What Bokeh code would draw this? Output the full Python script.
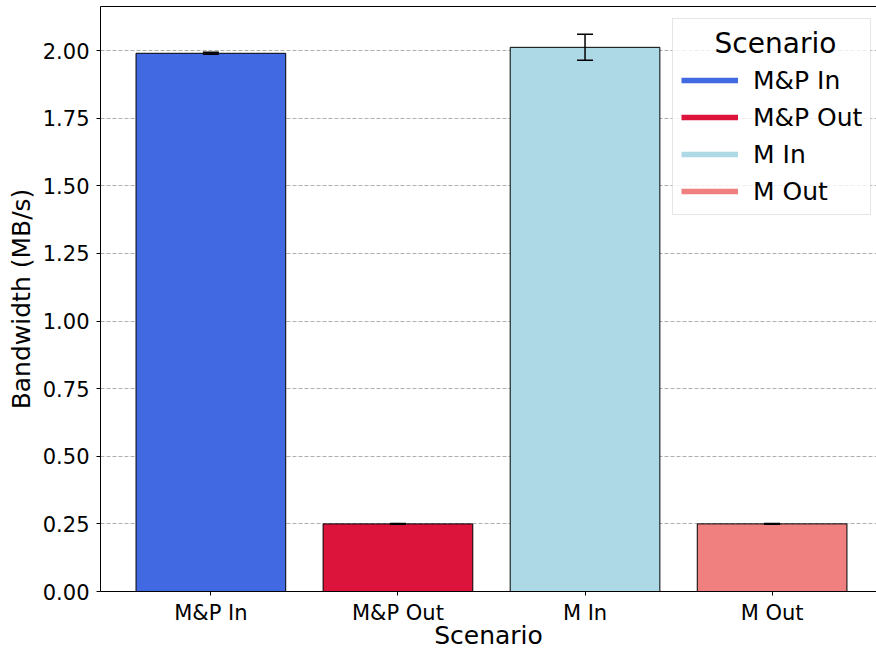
from bokeh.plotting import figure
from bokeh.models import (ColumnDataSource, Whisker, TeeHead, FixedTicker,
                          NumeralTickFormatter, LinearAxis, Legend, LegendItem)
from bokeh.embed import file_html
from bokeh.resources import INLINE

# Mean bandwidth per scenario with its standard deviation
categories = ["M&P In", "M&P Out", "M In", "M Out"]
bandwidth = [1.990, 0.250, 2.012, 0.250]
bandwidth_err = [0.004, 0.001, 0.048, 0.001]
colors = ["#4169E1", "#DC143C", "#ADD8E6", "#F08080"]
y_ticks = [0.0, 0.25, 0.5, 0.75, 1.0, 1.25, 1.5, 1.75, 2.0]

FONT = "DejaVu Sans"

xs = list(range(len(categories)))
src = ColumnDataSource(dict(
    x=xs,
    value=bandwidth,
    upper=[v + e for v, e in zip(bandwidth, bandwidth_err)],
    lower=[v - e for v, e in zip(bandwidth, bandwidth_err)],
    color=colors,
    name=categories,
))

top_val = max(v + e for v, e in zip(bandwidth, bandwidth_err)) * 1.05

p = figure(width=876, height=652, output_backend="svg", toolbar_location=None,
           x_range=(-0.59, 3.558), y_range=(0, top_val),
           min_border_left=100, min_border_top=6, min_border_bottom=61,
           min_border_right=0)
p.outline_line_color = None
p.background_fill_color = "white"
p.border_fill_color = "white"

# grid
p.xgrid.visible = False
p.ygrid.grid_line_color = "#b0b0b0"
p.ygrid.grid_line_dash = "4 2"
p.ygrid.grid_line_width = 1
p.ygrid.ticker = FixedTicker(ticks=y_ticks)

# bars
p.vbar(x="x", top="value", width=0.8, fill_color="color", line_color="black",
       line_width=1, source=src)

# error bars, drawn above the bars
err = Whisker(source=src, base="x", upper="upper", lower="lower",
              line_color="black", line_width=1.5, level="overlay",
              upper_head=TeeHead(size=16, line_color="black", line_width=1.5),
              lower_head=TeeHead(size=16, line_color="black", line_width=1.5))
p.add_layout(err)

# axes
xa = p.xaxis[0]
xa.ticker = FixedTicker(ticks=xs)
xa.major_label_overrides = {i: c for i, c in zip(xs, categories)}
xa.axis_label = "Scenario"
ya = p.yaxis[0]
ya.ticker = FixedTicker(ticks=y_ticks)
ya.formatter = NumeralTickFormatter(format="0.00")
ya.axis_label = "Bandwidth (MB/s)"
for ax in (xa, ya):
    ax.axis_line_color = "black"
    ax.axis_line_width = 1
    ax.major_tick_line_color = "black"
    ax.major_tick_out = 4
    ax.major_tick_in = 0
    ax.minor_tick_line_color = None
    ax.major_label_text_font = FONT
    ax.major_label_text_font_size = "21px"
    ax.major_label_text_color = "black"
    ax.axis_label_text_font = FONT
    ax.axis_label_text_font_size = "25px"
    ax.axis_label_text_font_style = "normal"
    ax.axis_label_text_color = "black"
xa.major_label_standoff = 5
xa.axis_label_standoff = -7
ya.major_label_standoff = 7
ya.axis_label_standoff = 4

# top spine
top_axis = LinearAxis(ticker=FixedTicker(ticks=[]), axis_line_color="black",
                      major_tick_line_color=None, minor_tick_line_color=None,
                      major_tick_out=0, minor_tick_out=0, major_label_standoff=0,
                      major_label_text_font_size="0px")
p.add_layout(top_axis, "above")

# legend with line swatches (renderers hold no visible points)
nan = float("nan")
swatches = [p.line(x=[nan], y=[nan], line_color=c, line_width=5.5) for c in colors]
legend = Legend(items=[LegendItem(label=c, renderers=[r]) for c, r in zip(categories, swatches)],
                location=(572, 376))
legend.title = "\u2002\u2002\u2009Scenario"
legend.title_text_font = FONT
legend.title_text_font_size = "28px"
legend.title_text_font_style = "normal"
legend.title_text_color = "black"
legend.title_standoff = 5
legend.label_text_font = FONT
legend.label_text_font_size = "25px"
legend.label_text_color = "black"
legend.glyph_width = 57
legend.glyph_height = 30
legend.label_height = 30
legend.label_standoff = 15
legend.spacing = 7
legend.padding = 8
legend.border_line_color = "#cccccc"
legend.border_line_width = 1
legend.background_fill_color = "white"
legend.background_fill_alpha = 0.8
p.add_layout(legend, "center")

open("out.html", "w").write(file_html(p, INLINE))
